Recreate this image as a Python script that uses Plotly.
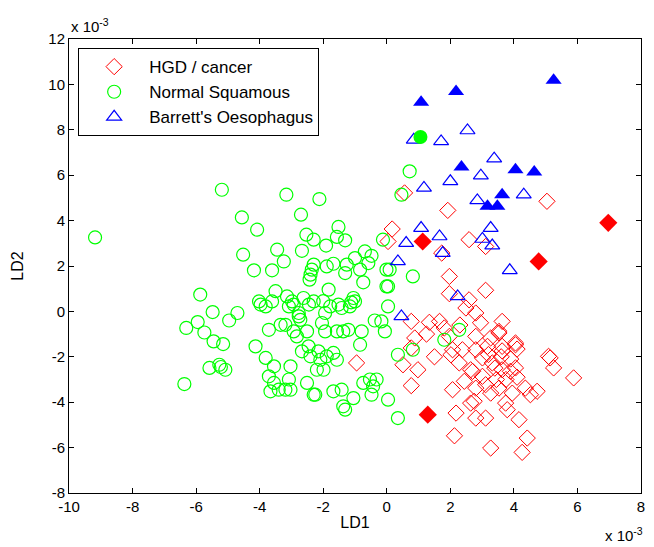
import plotly.graph_objects as go

# ---------------- data (LD1, LD2 in units of 1e-3) ----------------
hgd_x = [0.56, 5.04, 1.92, 0.17, 0.04, 2.59, 3.11, 1.73, 1.97, 3.11, 1.97, 2.59, 2.49, 2.8, 0.77, 1.34, 1.66,
         3.63, 3.53, 1.81, 0.88, 1.97, 2.8, 3.27, 3.53, 2.07, 2.38, 2.8, 3.17, 3.63, 4.05, 4.1, 0.77, -0.95,
         0.51, 0.98, 2.28, 2.64, 3.01, 3.32, 3.63, 3.89, 4.05, 5.14, 5.25, 5.88, 0.77, 2.07, 2.44, 2.8, 3.11,
         3.27, 3.53, 3.95, 4.36, 4.73, 4.52, 2.64, 3.74, 3.79, 2.18, 2.8, 3.11, 4.16, 2.13, 4.42, 3.27, 4.26,
         2.02, 2.7, 2.75, 3.01, 4.05, 3.63, 5.09, 3.9, 4.1, 3.75, 3.6, 3.4, 3.2, 3.45, 2.95, 1.5, 1.25, 2.3]
hgd_y = [5.22, 4.85, 4.45, 3.63, 3.08, 3.16, 2.86, 2.57, 1.54, 0.93, 0.78, 0.51, 0.15, -0.07, -0.44, -0.48, -0.44,
         -0.44, -0.88, -0.73, -1.17, -1.1, -1.1, -1.17, -0.95, -1.69, -1.69, -1.69, -1.54, -1.54, -1.47, -1.66, -1.61, -2.27,
         -2.35, -2.57, -2.27, -2.57, -2.05, -2.27, -2.57, -2.64, -2.49, -2.05, -2.49, -2.93, -3.27, -3.45, -3.08, -3.38, -3.23,
         -3.6, -3.38, -3.6, -3.38, -3.52, -3.67, -4.04, -4.04, -4.33, -4.48, -4.7, -4.7, -4.77, -5.48, -5.58, -6.02, -6.21,
         -1.91, -2.64, -3.96, -2.86, -1.39, -1.74, -1.98, -2.1, -2.9, -3.0, -2.0, -2.5, -1.9, -3.0, -0.5, -2.0, -1.0, -0.6]

ns_x = [-9.18, -5.19, -4.56, -4.08, -4.52, -4.18, -5.87, -5.48, -4.7, -4.96, -5.95, -6.31, -5.74, -5.45, -5.15,
        -4.13, -5.58, -5.27, -5.22, -5.08, -6.37,
        -3.16, -2.12, -2.7, -1.52, -2.53, -2.3, -1.91, -1.57, -1.31, -3.45, -3.24, -3.61, -2.67, -2.3, -2.36, -2.4,
        -2.43, -1.89, -1.68, -1.0, -0.69, -0.48, -0.58, -1.26, -0.84, -1.31, -1.83, -0.74, -0.01, -0.01, -3.5,
        -4.02, -3.97, -3.81, -3.61, -3.14, -2.98, -2.93, -3.08, -2.62, -2.3, -2.77, -2.72, -1.94, -1.78, -1.52,
        -1.42, -1.16, -1.05, -3.71, -3.19, -2.93, -2.83, -2.04, -1.94, -1.57, -1.37, -1.21, -0.79, -0.84, -0.38,
        -0.17, -0.06,
        -3.81, -3.55, -3.03, -2.67, -2.46, -2.4, -2.15, -2.09, -1.89, -1.68, -2.2, -1.99, -3.71, -3.55, -3.66,
        -3.4, -3.19, -3.03, -3.08, -2.51, -2.3, -2.25, -1.68, -1.42, -1.37, -1.31, -1.05, -0.74, -0.53, -0.43,
        -0.32, -0.48, 0.04,
        0.72, 0.46, -0.12, 0.09, 0.04, 0.82, 0.04, 2.28, 1.81, 0.82, 0.35, 0.35, -1.0,
        -2.51, -2.77, -1.57, -3.34, -1.12, -2.0, -2.45]
ns_y = [3.26, 5.36, 4.14, 3.6, 2.5, 1.81, 0.74, -0.03, -0.07, -0.4, -0.47, -0.73, -0.93, -1.32, -1.44,
        -1.54, -2.49, -2.35, -2.45, -2.57, -3.2,
        5.14, 4.95, 4.26, 3.72, 3.38, 3.16, 2.9, 3.28, 3.13, 2.72, 2.2, 1.81, 2.67, 2.06, 1.84, 1.62,
        1.4, 1.98, 2.1, 2.35, 2.64, 2.45, 2.13, 2.06, 1.84, 1.69, 0.96, 1.28, 1.1, 1.84, 0.89,
        0.44, 0.3, 0.22, 0.44, 0.66, 0.44, 0.3, 0.22, 0.59, 0.44, -0.07, -0.37, -0.07, 0.22, 0.3,
        0.15, 0.22, 0.59, -0.81, -0.59, -0.88, -1.1, -0.51, -0.88, -0.88, -0.88, -0.81, -0.88, -1.47, -0.4,
        -0.44, -0.88,
        -2.05, -2.42, -2.42, -1.76, -1.54, -1.98, -1.76, -2.13, -1.98, -1.83, -2.57, -2.57, -2.86, -3.15, -3.52,
        -3.45, -3.45, -3.45, -3.0, -3.15, -3.67, -3.67, -3.52, -3.45, -4.18, -4.33, -3.82, -3.15, -3.0, -3.3,
        -3.0, -3.67, -3.89,
        6.17, 5.14, 3.16, 1.84, 1.1, 1.54, 0.22, -0.81, -1.25, -1.69, -1.91, -4.7, 0.44,
        -0.88, -0.22, -2.13, -0.59, 0.4, 0.45, 0.3]

be_x = [0.85, 1.71, 2.54, 3.38, 2.96, 2.0, 1.17, 4.31, 2.85, 1.08, 3.27, 0.61, 1.66, 1.76, 3.01, 3.32, 0.35,
        3.87, 2.23, 0.46]
be_y = [7.56, 7.49, 7.97, 6.73, 5.98, 5.73, 5.44, 5.14, 4.89, 3.67, 3.67, 3.01, 3.3, 2.57, 3.19, 2.9, 2.2,
        1.81, 0.66, -0.22]

# highlighted (filled) samples
hgd_f_x = [6.97, 4.78, 1.13, 1.29]
hgd_f_y = [3.9, 2.2, 3.08, -4.55]
ns_f_x = [1.06]
ns_f_y = [7.68]
be_f_x = [1.08, 2.18, 5.25, 2.35, 4.05, 4.64, 3.63, 3.17, 3.48]
be_f_y = [9.21, 9.69, 10.18, 6.36, 6.24, 6.14, 5.14, 4.63, 4.63]

x_ticks = [-10, -8, -6, -4, -2, 0, 2, 4, 6, 8]
x_tick_labels = ["-10", "-8", "-6", "-4", "-2", "0", "2", "4", "6", "8"]
y_ticks = [-8, -6, -4, -2, 0, 2, 4, 6, 8, 10, 12]
y_tick_labels = ["-8", "-6", "-4", "-2", "0", "2", "4", "6", "8", "10", "12"]

RED, GREEN, BLUE = "#FF0000", "#00FF00", "#0000FF"
FONT = "Arial, Liberation Sans, sans-serif"

fig = go.Figure()
fig.add_trace(go.Scatter(x=hgd_x, y=hgd_y, mode="markers", name="HGD / cancer",
                         marker=dict(symbol="diamond-open", size=12.5, color=RED, line=dict(width=1, color=RED))))
fig.add_trace(go.Scatter(x=ns_x, y=ns_y, mode="markers", name="Normal Squamous",
                         marker=dict(symbol="circle-open", size=13, color=GREEN, line=dict(width=1.2, color=GREEN))))
fig.add_trace(go.Scatter(x=be_x, y=be_y, mode="markers", name="Barrett's Oesophagus",
                         marker=dict(symbol="triangle-up-open", size=13, color=BLUE, line=dict(width=1.2, color=BLUE))))
fig.add_trace(go.Scatter(x=hgd_f_x, y=hgd_f_y, mode="markers", showlegend=False,
                         marker=dict(symbol="diamond", size=14, color=RED, line=dict(width=0))))
fig.add_trace(go.Scatter(x=be_f_x, y=be_f_y, mode="markers", showlegend=False,
                         marker=dict(symbol="triangle-up", size=14, color=BLUE, line=dict(width=0))))
fig.add_trace(go.Scatter(x=ns_f_x, y=ns_f_y, mode="markers", showlegend=False,
                         marker=dict(symbol="circle", size=14, color=GREEN, line=dict(width=0))))

axis_common = dict(showline=True, linecolor="black", linewidth=1, mirror="ticks", ticks="inside",
                   ticklen=5, tickcolor="black", showgrid=False, zeroline=False,
                   tickfont=dict(family=FONT, size=15, color="black"))

fig.update_layout(
    width=654, height=547,
    margin=dict(l=69, r=9, t=39, b=54),
    paper_bgcolor="white", plot_bgcolor="white",
    font=dict(family=FONT, color="black"),
    xaxis=dict(range=[-10, 8], tickvals=x_ticks, ticktext=x_tick_labels,
               title=dict(text="LD1", font=dict(family=FONT, size=16), standoff=2), **axis_common),
    yaxis=dict(range=[-8, 12], tickvals=y_ticks, ticktext=y_tick_labels,
               title=dict(text="LD2", font=dict(family=FONT, size=16), standoff=20), **axis_common),
    legend=dict(x=0.016, y=0.98, xanchor="left", yanchor="top", bgcolor="white",
                bordercolor="black", borderwidth=1, itemwidth=60,
                font=dict(family=FONT, size=17, color="black"), tracegroupgap=0),
    annotations=[
        dict(text="x 10<sup>-3</sup>", xref="paper", yref="paper", x=0, y=1, xanchor="left",
             yanchor="bottom", yshift=2, showarrow=False, font=dict(family=FONT, size=15)),
        dict(text="x 10<sup>-3</sup>", xref="paper", yref="paper", x=1, y=0, xanchor="right",
             yanchor="top", yshift=-30, xshift=4, showarrow=False, font=dict(family=FONT, size=15)),
    ],
)

fig.write_html("out.html")
